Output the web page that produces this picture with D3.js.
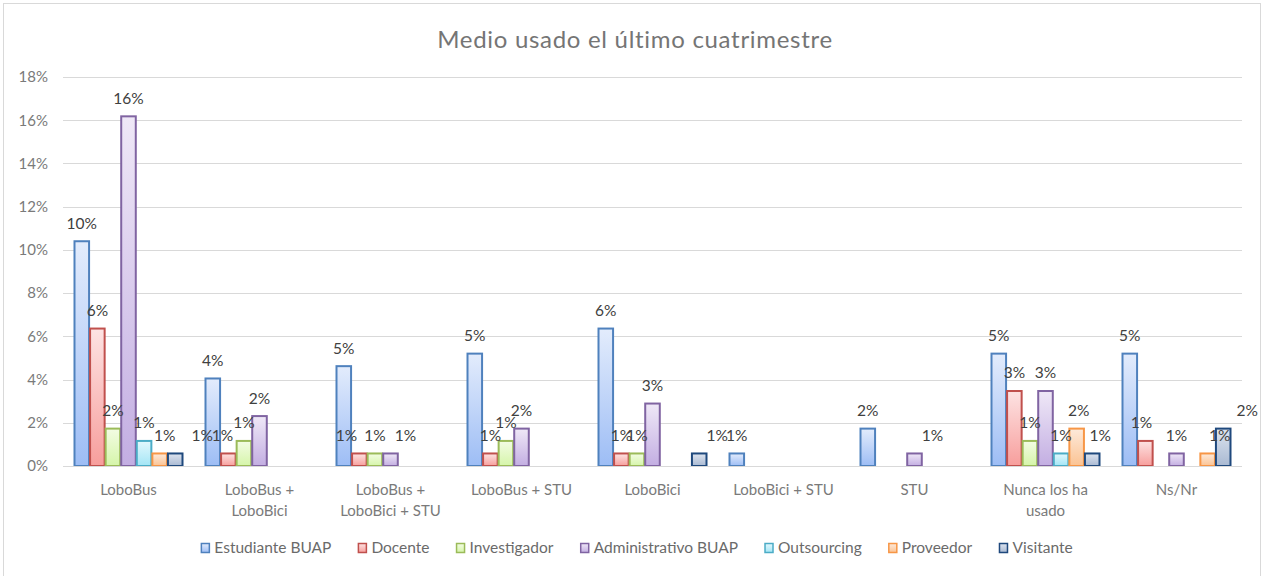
<!DOCTYPE html>
<html>
<head>
<meta charset="utf-8">
<script src="https://cdn.jsdelivr.net/npm/d3@7"></script>
<style>
  body { margin: 0; background: #fff; }
  svg { display: block; font-family: Lato, "Open Sans", sans-serif; }
</style>
</head>
<body>
<script>
// categories and series
const categories = ['LoboBus', 'LoboBus + LoboBici', 'LoboBus + LoboBici + STU', 'LoboBus + STU',
  'LoboBici', 'LoboBici + STU', 'STU', 'Nunca los ha usado', 'Ns/Nr'];
const seriesNames = ['Estudiante BUAP', 'Docente', 'Investigador', 'Administrativo BUAP',
  'Outsourcing', 'Proveedor', 'Visitante'];

// values in % (one array per series, same order as categories; null = no bar)
const estudiante = [10.40, 4.05, 4.62, 5.20, 6.36, 0.58, 1.73, 5.20, 5.20];
const docente = [6.36, 0.58, 0.58, 0.58, 0.58, null, null, 3.47, 1.16];
const investigador = [1.73, 1.16, 0.58, 1.16, 0.58, null, null, 1.16, null];
const administrativo = [16.18, 2.31, 0.58, 1.73, 2.89, null, 0.58, 3.47, 0.58];
const outsourcing = [1.16, null, null, null, null, null, null, 0.58, null];
const proveedor = [0.58, null, null, null, null, null, null, 1.73, 0.58];
const visitante = [0.58, null, null, null, 0.58, null, null, 0.58, 1.73];

const yTicks = [0, 2, 4, 6, 8, 10, 12, 14, 16, 18];

const seriesValues = [estudiante, docente, investigador, administrativo, outsourcing, proveedor, visitante];

// look of each series: border, gradient top, gradient bottom
const colors = [
  ['#4f81bd', '#e3ecfc', '#9dbdf5'],
  ['#c0504d', '#fde3e3', '#f79e9c'],
  ['#9bbb59', '#f3fce4', '#d5f5a9'],
  ['#8064a2', '#efe8f7', '#c3aee2'],
  ['#4bacc6', '#e3f8fd', '#a3e5f5'],
  ['#f79646', '#fdeadb', '#fbc393'],
  ['#1f497d', '#dde4ef', '#a9b9d2']
];

// label nudges (series index, category index -> dx), as placed in the excel chart
const labelNudge = {
  '5,0': 5, '6,0': 27,
  '1,1': -6,
  '1,2': -13, '3,2': 15,
  '6,4': 18,
  '3,6': 18,
  '5,7': 2, '6,7': 8,
  '1,8': -4, '5,8': 12, '6,8': 24
};

const width = 1265, height = 576;
const margin = { left: 63, right: 23, top: 77, bottom: 110 };

const svg = d3.select('body').append('svg')
  .attr('width', width)
  .attr('height', height);

const defs = svg.append('defs');
colors.forEach((c, i) => {
  const g = defs.append('linearGradient')
    .attr('id', 'grad' + i)
    .attr('x1', 0).attr('y1', 0).attr('x2', 0).attr('y2', 1);
  g.append('stop').attr('offset', '0%').attr('stop-color', c[1]);
  g.append('stop').attr('offset', '100%').attr('stop-color', c[2]);
});

// chart frame
svg.append('rect')
  .attr('x', 3.5).attr('y', 3.5)
  .attr('width', 1257).attr('height', 600)
  .attr('fill', '#fff')
  .attr('stroke', '#d9d9d9');

svg.append('text')
  .attr('x', 635).attr('y', 48)
  .attr('text-anchor', 'middle')
  .attr('font-size', 24)
  .attr('letter-spacing', 0.7)
  .attr('fill', '#757575')
  .text('Medio usado el último cuatrimestre');

const x0 = d3.scaleBand()
  .domain(categories)
  .range([margin.left, width - margin.right]);

const gap = 11;
const x1 = d3.scaleBand()
  .domain(seriesNames)
  .range([gap, x0.bandwidth() - gap]);

const y = d3.scaleLinear()
  .domain([0, 18])
  .range([height - margin.bottom, margin.top]);

// gridlines
svg.append('g')
  .selectAll('line')
  .data(yTicks)
  .join('line')
  .attr('x1', margin.left).attr('x2', width - margin.right)
  .attr('y1', d => Math.round(y(d)) + 0.5)
  .attr('y2', d => Math.round(y(d)) + 0.5)
  .attr('stroke', '#d9d9d9');

const yAxis = svg.append('g')
  .attr('transform', `translate(${margin.left},0)`)
  .call(d3.axisLeft(y).tickValues(yTicks).tickSize(0).tickPadding(15).tickFormat(d => d + '%'));
yAxis.select('.domain').remove();
yAxis.selectAll('text')
  .attr('font-size', 15)
  .attr('font-family', 'Lato, sans-serif')
  .attr('fill', '#7a7a7a');

// bars
const rows = [];
seriesValues.forEach((vals, si) => {
  vals.forEach((v, ci) => {
    if (v != null) rows.push({ s: si, c: ci, v: v });
  });
});

svg.append('g')
  .selectAll('rect')
  .data(rows)
  .join('rect')
  .attr('x', d => x0(categories[d.c]) + x1(seriesNames[d.s]) + 0.5)
  .attr('y', d => y(d.v))
  .attr('width', x1.bandwidth() - 1)
  .attr('height', d => y(0) - y(d.v))
  .attr('fill', d => `url(#grad${d.s})`)
  .attr('stroke', d => colors[d.s][0])
  .attr('stroke-width', 2);

// x axis line
svg.append('line')
  .attr('x1', margin.left).attr('x2', width - margin.right)
  .attr('y1', Math.round(y(0)) + 0.5).attr('y2', Math.round(y(0)) + 0.5)
  .attr('stroke', '#d9d9d9');

// data labels
svg.append('g')
  .selectAll('text')
  .data(rows)
  .join('text')
  .attr('x', d => x0(categories[d.c]) + x1(seriesNames[d.s]) + x1.bandwidth() / 2 + (labelNudge[d.s + ',' + d.c] || 0))
  .attr('y', d => y(d.v) - 18)
  .attr('dy', '0.35em')
  .attr('text-anchor', 'middle')
  .attr('font-size', 15.5)
  .attr('fill', '#404040')
  .text(d => Math.round(d.v) + '%');

// category labels, wrapped
const xLab = svg.append('g');
categories.forEach(cat => {
  const words = cat.split(' ');
  const lines = [];
  let line = '';
  const probe = xLab.append('text').attr('font-size', 15);
  words.forEach(w => {
    const test = line ? line + ' ' + w : w;
    probe.text(test);
    if (probe.node().getComputedTextLength() > 118 && line) {
      lines.push(line);
      line = w;
    } else {
      line = test;
    }
  });
  lines.push(line);
  probe.remove();
  const t = xLab.append('text')
    .attr('x', x0(cat) + x0.bandwidth() / 2)
    .attr('y', 495)
    .attr('text-anchor', 'middle')
    .attr('font-size', 15)
    .attr('fill', '#7a7a7a');
  lines.forEach((l, i) => {
    t.append('tspan')
      .attr('x', x0(cat) + x0.bandwidth() / 2)
      .attr('dy', i === 0 ? 0 : 21)
      .text(l);
  });
});

// legend
const legend = svg.append('g');
const items = legend.selectAll('g')
  .data(seriesNames)
  .join('g');
items.append('rect')
  .attr('width', 8).attr('height', 9)
  .attr('y', -4.5)
  .attr('fill', (d, i) => `url(#grad${i})`)
  .attr('stroke', (d, i) => colors[i][0])
  .attr('stroke-width', 1.5);
items.append('text')
  .attr('x', 13)
  .attr('dy', '0.35em')
  .attr('font-size', 15.5)
  .attr('fill', '#6a6a6a')
  .text(d => d);
let lx = 0;
items.each(function () {
  d3.select(this).attr('transform', `translate(${lx},0)`);
  lx += this.getBBox().width + 27;
});
lx -= 27;
legend.attr('transform', `translate(${(637 - lx / 2)},548)`);
</script>
</body>
</html>
